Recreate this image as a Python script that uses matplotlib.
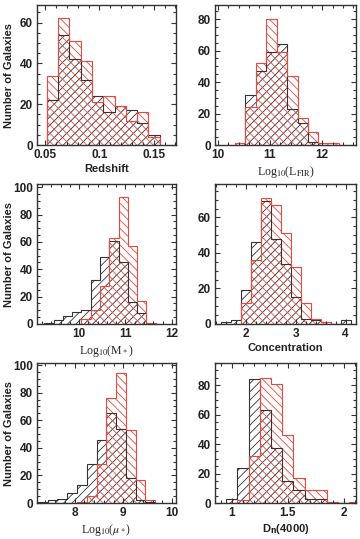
import matplotlib
matplotlib.use('Agg')
import matplotlib.pyplot as plt
from matplotlib.ticker import MultipleLocator

# ---------------- data ----------------
z_edges = [0.0515, 0.0619, 0.0723, 0.0827, 0.0931, 0.1035, 0.1139, 0.1243, 0.1347, 0.1451, 0.1555]
z_black = [22, 54, 42, 32, 24, 16, 19, 17, 11, 5]
z_red = [34, 62, 51, 41, 21, 24, 19, 12, 16, 4]

lfir_edges = [10.33, 10.53, 10.73, 10.93, 11.13, 11.33, 11.53, 11.73, 11.93, 12.13, 12.33]
lfir_black = [0, 32, 47, 59, 64, 23, 14, 2, 0, 0]
lfir_red = [1, 24, 52, 80, 59, 44, 17, 8, 1, 1]

mstar_edges = [9.25, 9.45, 9.65, 9.85, 10.05, 10.25, 10.45, 10.65, 10.85, 11.05, 11.25, 11.45, 11.65]
mstar_black = [1, 3, 6, 9, 10, 32, 49, 61, 45, 16, 8, 0]
mstar_red = [0, 0, 0, 0, 4, 10, 28, 63, 93, 57, 17, 1]

conc_edges = [1.5, 1.7, 1.9, 2.1, 2.3, 2.5, 2.7, 2.9, 3.1, 3.3, 3.5, 3.7, 3.9, 4.1]
conc_black = [1, 2, 19, 46, 69, 48, 34, 15, 3, 2, 1, 0, 2]
conc_red = [0, 0, 12, 36, 71, 67, 51, 32, 12, 3, 1, 0, 0]

mu_edges = [7.25, 7.45, 7.65, 7.85, 8.05, 8.25, 8.45, 8.65, 8.85, 9.05, 9.25, 9.45, 9.65]
mu_black = [1, 2, 3, 7, 13, 28, 46, 65, 54, 18, 2, 1]
mu_red = [0, 0, 0, 0, 1, 5, 28, 76, 94, 53, 17, 2]

dn_edges = [0.95, 1.05, 1.15, 1.25, 1.35, 1.45, 1.55, 1.65, 1.75, 1.85, 1.95, 2.05, 2.15]
dn_black = [3, 24, 84, 63, 37, 15, 9, 3, 3, 1, 0, 0]
dn_red = [0, 2, 32, 85, 81, 46, 17, 9, 9, 1, 0, 1]

# ---------------- style ----------------
BLACK = '#333333'
RED = '#e8483e'
plt.rcParams['hatch.linewidth'] = 0.6
plt.rcParams['mathtext.fontset'] = 'stix'

W, H = 360, 539
fig = plt.figure(figsize=(W / 100, H / 100), dpi=100)

SANS = 'Liberation Sans'
SERIF = 'Liberation Serif'


def add_ax(l, t, r, b):
    return fig.add_axes([l / W, 1 - b / H, (r - l) / W, (b - t) / H])


def panel(ax, edges, black, red, xlim, ylim, xmaj, xmin, xlabel, xlabel_kw, ylabel=False):
    ax.stairs(black, edges, fill=True, facecolor='none', edgecolor=BLACK,
              hatch='////', linewidth=0)
    ax.stairs(red, edges, fill=True, facecolor='none', edgecolor=RED,
              hatch='\\\\\\\\', linewidth=0)
    ax.stairs(black, edges, color=BLACK, linewidth=0.8)
    ax.stairs(red, edges, color=RED, linewidth=0.8)
    ax.set_xlim(*xlim)
    ax.set_ylim(*ylim)
    ax.xaxis.set_major_locator(MultipleLocator(xmaj))
    ax.xaxis.set_minor_locator(MultipleLocator(xmin))
    ax.yaxis.set_major_locator(MultipleLocator(20))
    ax.yaxis.set_minor_locator(MultipleLocator(5))
    ax.tick_params(which='both', direction='in', top=True, right=True,
                   color=BLACK, width=0.8)
    ax.tick_params(which='major', length=3.8, pad=3)
    ax.tick_params(which='minor', length=2)
    for lab in ax.get_xticklabels() + ax.get_yticklabels():
        lab.set_fontfamily(SANS)
        lab.set_fontweight('bold')
        lab.set_fontsize(8.5)
        lab.set_color('#222222')
    for s in ax.spines.values():
        s.set_color(BLACK)
        s.set_linewidth(1.0)
    ax.set_xlabel(xlabel, color='#222222', labelpad=2, **xlabel_kw)
    if ylabel:
        ax.set_ylabel('Number of Galaxies', fontfamily=SANS, fontweight='bold',
                      fontsize=8, color='#222222')
        ax.yaxis.set_label_coords(-0.165, 0.5)


sans_kw = dict(fontfamily=SANS, fontweight='bold', fontsize=8)
serif_kw = dict(fontfamily=SERIF, fontsize=8.5, math_fontfamily='stix')

ax1 = add_ax(37, 5, 176, 145)
panel(ax1, z_edges, z_black, z_red, (0.0425, 0.1705), (0, 68.6), 0.05, 0.01,
      'Redshift', sans_kw, ylabel=True)
ax1.xaxis.set_major_formatter(plt.FuncFormatter(lambda v, p: f'{v:g}'))

ax2 = add_ax(215, 5, 356, 145)
panel(ax2, lfir_edges, lfir_black, lfir_red, (9.95, 12.65), (0, 89), 1, 0.2,
      r'Log$_{10}$(L$_{\mathrm{FIR}}$)', serif_kw)

ax3 = add_ax(37, 184, 176, 324)
panel(ax3, mstar_edges, mstar_black, mstar_red, (9.09, 12.09), (0, 102.4), 1, 0.2,
      r'Log$_{10}$(M$_*$)', serif_kw, ylabel=True)

ax4 = add_ax(215, 184, 356, 324)
panel(ax4, conc_edges, conc_black, conc_red, (1.38, 4.21), (0, 78.8), 1, 0.2,
      'Concentration', sans_kw)

ax5 = add_ax(37, 363, 176, 503)
panel(ax5, mu_edges, mu_black, mu_red, (7.23, 10.08), (0, 101.5), 1, 0.2,
      r'Log$_{10}$($\mu_*$)', serif_kw, ylabel=True)

ax6 = add_ax(215, 363, 356, 503)
panel(ax6, dn_edges, dn_black, dn_red, (0.85, 2.11), (0, 95), 0.5, 0.1,
      r'D$_\mathbf{n}$(4000)', dict(fontfamily=SANS, fontweight='bold', fontsize=8,
                                   math_fontfamily='dejavusans'))
ax6.xaxis.set_major_formatter(plt.FuncFormatter(lambda v, p: f'{v:g}'))

fig.savefig('out.png', dpi=100)
